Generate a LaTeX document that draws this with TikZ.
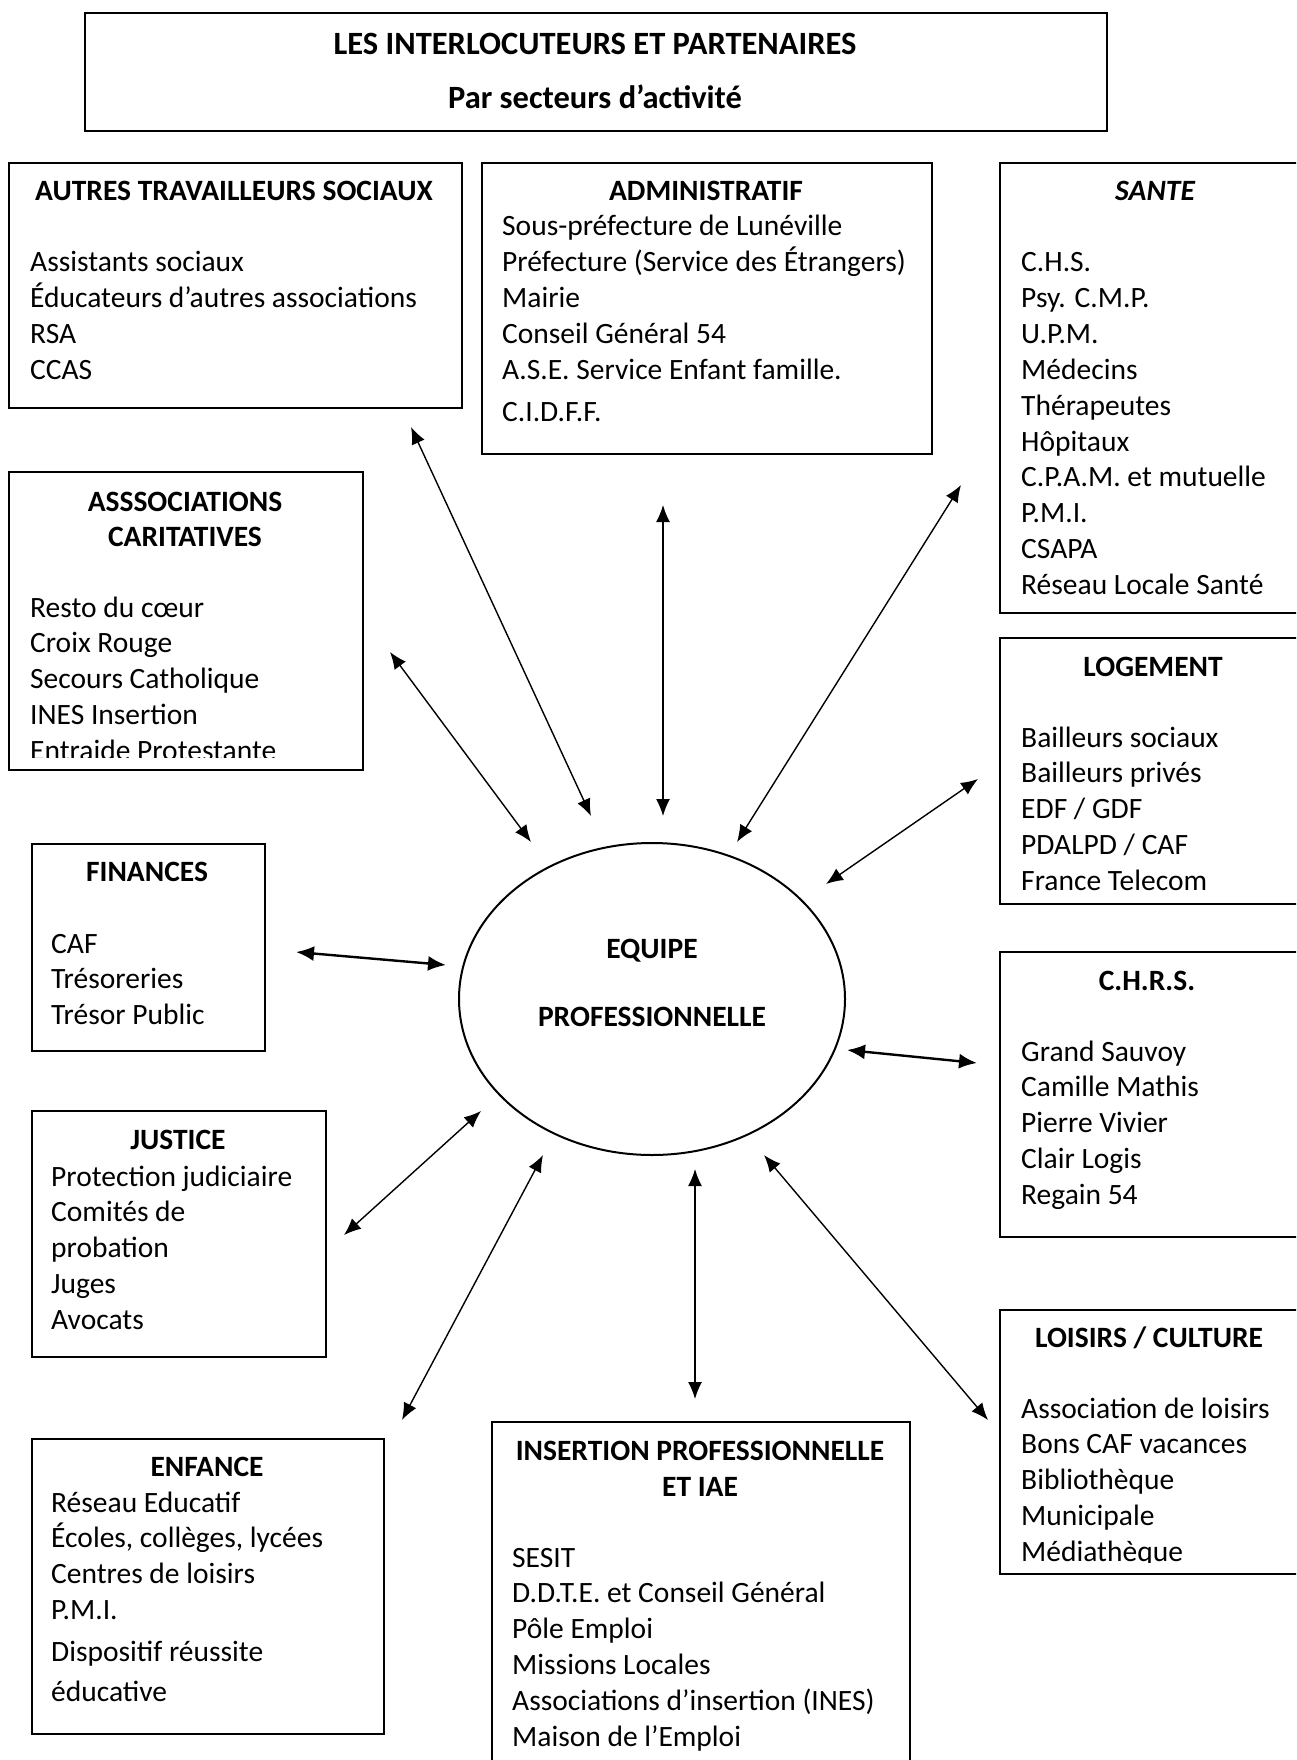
\documentclass[tikz,border=0pt]{standalone}
\usepackage{fontspec}
\setmainfont{Carlito}
\usetikzlibrary{shapes.geometric,arrows.meta}
\begin{document}
\begin{tikzpicture}[x=1pt,y=-1pt,
  box/.style={draw,line width=2pt,rectangle,inner sep=0pt,anchor=north west},
  ttl/.style={font=\fontsize{29.5}{34}\selectfont\bfseries,anchor=base,inner sep=0pt},
  bigttl/.style={font=\fontsize{32.5}{38}\selectfont\bfseries,anchor=base,inner sep=0pt},
  itm/.style={font=\fontsize{29.5}{34}\selectfont,anchor=base west,inner sep=0pt},
  link/.style={line width=1.4pt,{Latex[length=17pt,width=14pt]}-{Latex[length=17pt,width=14pt]}},
  boldlink/.style={line width=2.4pt,{Latex[length=18pt,width=15pt]}-{Latex[length=18pt,width=15pt]}}
]
\useasboundingbox (0,0) rectangle (1296,1760);
\clip (0,0) rectangle (1296,1760);

% ---------- boxes ----------
\node[box,minimum width=1022pt,minimum height=118pt] (titlebox) at (84,12) {};
\node[box,minimum width=453pt,minimum height=245pt] (aut) at (8,162) {};
\node[box,minimum width=450pt,minimum height=291pt] (adm) at (481,162) {};
\node[box,minimum width=320pt,minimum height=450pt] (san) at (999,162) {};
\node[box,minimum width=354pt,minimum height=298pt] (ass) at (8,471) {};
\node[box,minimum width=320pt,minimum height=266pt] (log) at (999,637) {};
\node[box,minimum width=233pt,minimum height=207pt] (fin) at (31,843) {};
\node[box,minimum width=320pt,minimum height=285pt] (chr) at (999,951) {};
\node[box,minimum width=294pt,minimum height=246pt] (jus) at (31,1110) {};
\node[box,minimum width=320pt,minimum height=264pt] (loi) at (999,1309) {};
\node[box,minimum width=352pt,minimum height=295pt] (enf) at (31,1438) {};
\node[box,minimum width=418pt,minimum height=359pt] (ins) at (491,1421) {};

% ---------- central ellipse ----------
\node[draw,ellipse,line width=2pt,minimum width=386pt,minimum height=312pt,inner sep=0pt] (eq) at (652,999) {};
\node[ttl] (eq-1) at (652,958) {EQUIPE};
\node[ttl] (eq-2) at (652,1026) {PROFESSIONNELLE};

% ---------- title ----------
\node[bigttl] (title-1) at (595,55) {LES INTERLOCUTEURS ET PARTENAIRES};
\node[bigttl] (title-2) at (595,109) {Par secteurs d’activité};

% ---------- AUTRES TRAVAILLEURS SOCIAUX ----------
\node[ttl] (aut-t) at (234,201) {AUTRES TRAVAILLEURS SOCIAUX};
\foreach \t [count=\i from 0] in {Assistants sociaux,Éducateurs d’autres associations,RSA,CCAS}
  \node[itm,name=aut-\i] at (30,272+35.8*\i) {\t};

% ---------- ADMINISTRATIF ----------
\node[ttl] (adm-t) at (706,201) {ADMINISTRATIF};
\foreach \t [count=\i from 0] in {Sous-préfecture de Lunéville,Préfecture (Service des Étrangers),Mairie,Conseil Général 54,A.S.E. Service Enfant famille.}
  \node[itm,name=adm-\i] at (502,236+35.8*\i) {\t};
\node[itm] (adm-5) at (502,421) {C.I.D.F.F.};

% ---------- SANTE ----------
\node[ttl,font=\fontsize{29.5}{34}\selectfont\bfseries\itshape] (san-t) at (1155,201) {SANTE};
\foreach \t [count=\i from 0] in {C.H.S.,Psy. C.M.P.,U.P.M.,Médecins,Thérapeutes,Hôpitaux,C.P.A.M. et mutuelle,P.M.I.,CSAPA,Réseau Locale Santé}
  \node[itm,name=san-\i] at (1021,272+35.8*\i) {\t};

% ---------- ASSSOCIATIONS CARITATIVES ----------
\node[ttl] (ass-t1) at (185,511) {ASSSOCIATIONS};
\node[ttl] (ass-t2) at (185,546) {CARITATIVES};
\foreach \t [count=\i from 0] in {Resto du cœur,Croix Rouge,Secours Catholique,INES Insertion}
  \node[itm,name=ass-\i] at (30,617+35.8*\i) {\t};
\begin{scope}
  \clip (0,0) rectangle (1296,757);
  \node[itm] (ass-4) at (30,760) {Entraide Protestante};
\end{scope}

% ---------- LOGEMENT ----------
\node[ttl] (log-t) at (1153,676) {LOGEMENT};
\foreach \t [count=\i from 0] in {Bailleurs sociaux,Bailleurs privés,EDF / GDF,PDALPD / CAF,France Telecom}
  \node[itm,name=log-\i] at (1021,747+35.8*\i) {\t};

% ---------- FINANCES ----------
\node[ttl] (fin-t) at (147,881) {FINANCES};
\foreach \t [count=\i from 0] in {CAF,Trésoreries,Trésor Public}
  \node[itm,name=fin-\i] at (51,953+35.8*\i) {\t};

% ---------- C.H.R.S. ----------
\node[ttl] (chr-t) at (1147,990) {C.H.R.S.};
\foreach \t [count=\i from 0] in {Grand Sauvoy,Camille Mathis,Pierre Vivier,Clair Logis,Regain 54}
  \node[itm,name=chr-\i] at (1021,1061+35.8*\i) {\t};

% ---------- JUSTICE ----------
\node[ttl] (jus-t) at (178,1149) {JUSTICE};
\foreach \t [count=\i from 0] in {Protection judiciaire,Comités de,probation,Juges,Avocats}
  \node[itm,name=jus-\i] at (51,1186+35.8*\i) {\t};

% ---------- LOISIRS / CULTURE ----------
\node[ttl] (loi-t) at (1149,1347) {LOISIRS / CULTURE};
\foreach \t [count=\i from 0] in {Association de loisirs,Bons CAF vacances,Bibliothèque,Municipale}
  \node[itm,name=loi-\i] at (1021,1418+35.8*\i) {\t};
\begin{scope}
  \clip (0,0) rectangle (1296,1562);
  \node[itm] (loi-4) at (1021,1561) {Médiathèque};
\end{scope}

% ---------- ENFANCE ----------
\node[ttl] (enf-t) at (207,1476) {ENFANCE};
\foreach \t [count=\i from 0] in {Réseau Educatif,{Écoles, collèges, lycées},Centres de loisirs,P.M.I.}
  \node[itm,name=enf-\i] at (51,1512+35.8*\i) {\t};
\node[itm] (enf-4) at (51,1661) {Dispositif réussite};
\node[itm] (enf-5) at (51,1701) {éducative};

% ---------- INSERTION PROFESSIONNELLE ----------
\node[ttl] (ins-t1) at (700,1460) {INSERTION PROFESSIONNELLE};
\node[ttl] (ins-t2) at (700,1496) {ET IAE};
\foreach \t [count=\i from 0] in {SESIT,D.D.T.E. et Conseil Général,Pôle Emploi,Missions Locales,Associations d’insertion (INES),Maison de l’Emploi}
  \node[itm,name=ins-\i] at (512,1567+35.8*\i) {\t};

% ---------- connector end points ----------
\coordinate (autA) at (411,427);  \coordinate (autB) at (591,816);
\coordinate (admA) at (663,505);  \coordinate (admB) at (663,816);
\coordinate (sanA) at (961,485);  \coordinate (sanB) at (737,842);
\coordinate (assA) at (390,652);  \coordinate (assB) at (531,842);
\coordinate (logA) at (978,779);  \coordinate (logB) at (826,884);
\coordinate (finA) at (296,952);  \coordinate (finB) at (446,965);
\coordinate (chrA) at (847,1050); \coordinate (chrB) at (977,1063);
\coordinate (jusA) at (344,1235); \coordinate (jusB) at (481,1111);
\coordinate (enfA) at (402,1420); \coordinate (enfB) at (543,1155);
\coordinate (insA) at (695,1399); \coordinate (insB) at (695,1169);
\coordinate (loiA) at (988,1420); \coordinate (loiB) at (764,1155);

% ---------- connectors ----------
\draw[link] (autA) -- (autB);
\draw[link] (admA) -- (admB);
\draw[link] (sanA) -- (sanB);
\draw[link] (assA) -- (assB);
\draw[link] (logA) -- (logB);
\draw[boldlink] (finA) -- (finB);
\draw[boldlink] (chrA) -- (chrB);
\draw[link] (jusA) -- (jusB);
\draw[link] (enfA) -- (enfB);
\draw[link] (insA) -- (insB);
\draw[link] (loiA) -- (loiB);
\end{tikzpicture}
\end{document}
